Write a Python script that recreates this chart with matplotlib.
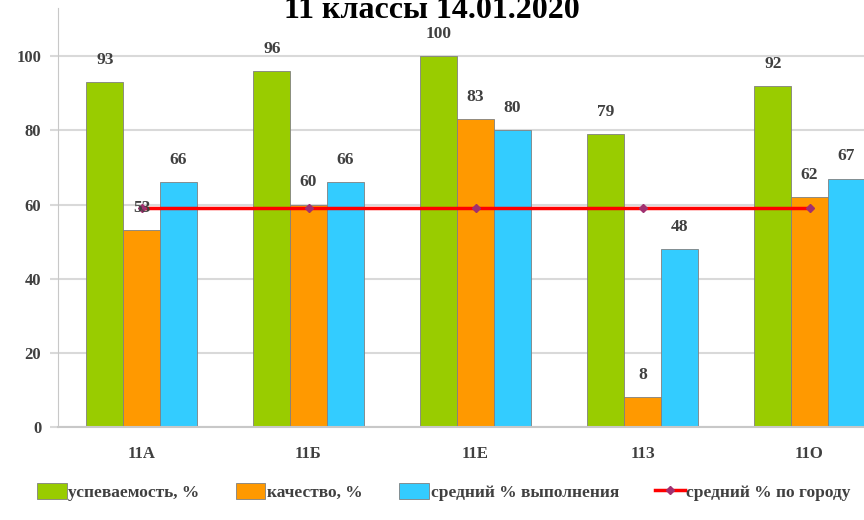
import matplotlib
matplotlib.use('Agg')
import matplotlib.pyplot as plt
import numpy as np

plt.rcParams['font.family'] = ['Liberation Serif', 'DejaVu Serif']

classes = ['11А', '11Б', '11Е', '11З', '11О']
uspevaemost = [93, 96, 100, 79, 92]
kachestvo = [53, 60, 83, 8, 62]
sredniy = [66, 66, 80, 48, 67]
gorod = [59, 59, 59, 59, 59]

series_names = ['успеваемость, %', 'качество, %', 'средний % выполнения', 'средний % по городу']
colors = ['#99cc00', '#ff9900', '#33ccff']
text_col = '#404040'

fig = plt.figure(figsize=(8.64, 5.2), dpi=100)
ax = fig.add_axes([58 / 864, 93 / 520, 835 / 864, 419 / 520])

x = np.arange(len(classes))
w = 0.22
for i, (vals, col) in enumerate(zip([uspevaemost, kachestvo, sredniy], colors)):
    bars = ax.bar(x + (i - 1) * w, vals, w, color=col, edgecolor='#808080',
                  linewidth=0.6, label=series_names[i], zorder=2)
    for b, v in zip(bars, vals):
        ax.annotate(str(v), (b.get_x() + b.get_width() / 2, v), xytext=(0, 16),
                    textcoords='offset points', ha='center', va='center',
                    fontsize=12.5, weight='bold', color=text_col, zorder=4)

ax.plot(x, gorod, color='#ff0000', lw=2.5, marker='D', markersize=4,
        markerfacecolor='#a03070', markeredgecolor='#a03070',
        label=series_names[3], zorder=3)

ax.set_xlim(-0.5, 4.5)
ax.set_ylim(0, 113)
ax.set_yticks(range(0, 101, 20))
ax.grid(axis='y', color='#d9d9d9', lw=1.5, zorder=0)
ax.set_axisbelow(True)
for s in ['top', 'right']:
    ax.spines[s].set_visible(False)
ax.spines['left'].set_color('#c8c8c8')
ax.spines['bottom'].set_color('#c8c8c8')
ax.spines['bottom'].set_linewidth(1.5)
ax.set_xticks(x)
ax.set_xticklabels(classes)
ax.tick_params(axis='y', length=6, color='#d9d9d9', width=1.5, pad=6)
ax.tick_params(axis='x', length=0, pad=14)
for lab in ax.get_xticklabels() + ax.get_yticklabels():
    lab.set_fontsize(12)
    lab.set_fontweight('bold')
    lab.set_color(text_col)

fig.text(0.5, 502 / 520, '11 классы 14.01.2020', ha='center', va='baseline',
         fontsize=23, weight='bold', color='black')

handles, labels = ax.get_legend_handles_labels()
order = [1, 2, 3, 0]
fig.legend([handles[i] for i in order], [labels[i] for i in order],
           loc='center', bbox_to_anchor=(444 / 864, 28 / 520), ncol=4, frameon=False,
           prop={'size': 12.5, 'weight': 'bold'}, handlelength=1.7,
           handleheight=1.0, handletextpad=0.1, columnspacing=2.1,
           labelcolor=text_col)

fig.savefig('out.png', dpi=100)
